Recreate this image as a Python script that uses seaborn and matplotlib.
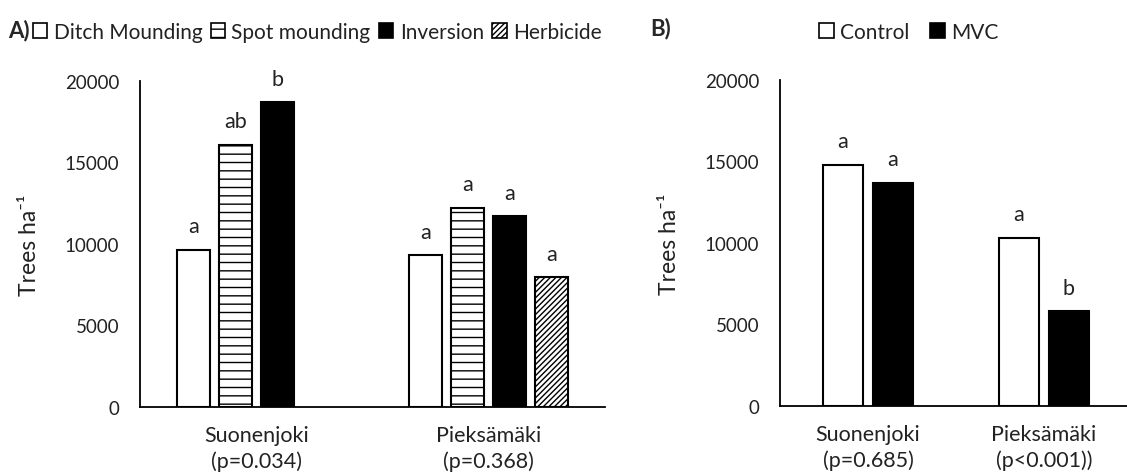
import numpy as np
import pandas as pd
import matplotlib
matplotlib.use("Agg")
import matplotlib.pyplot as plt
from matplotlib.patches import Patch
import seaborn as sns

# ---------------- data ----------------
sites = ["Suonenjoki", "Pieksämäki"]
p_a = ["(p=0.034)", "(p=0.368)"]
p_b = ["(p=0.685)", "(p<0.001))"]

treat_a = ["Ditch Mounding", "Spot mounding", "Inversion", "Herbicide"]
suon_a = [9650, 16100, 18700, np.nan]
pieks_a = [9300, 12200, 11700, 7950]
let_suon_a = ["a", "ab", "b", ""]
let_pieks_a = ["a", "a", "a", "a"]

treat_b = ["Control", "MVC"]
suon_b = [14800, 13700]
pieks_b = [10300, 5800]
let_suon_b = ["a", "a"]
let_pieks_b = ["a", "b"]

yticks = [0, 5000, 10000, 15000, 20000]

# styles
face_a = ["white", "white", "black", "white"]
hatch_a = [None, "--", None, "//////"]
face_b = ["white", "black"]

sns.set_style("white")
plt.rcParams["font.family"] = ["Lato", "DejaVu Sans"]
plt.rcParams["hatch.linewidth"] = 1.0
plt.rcParams["hatch.color"] = "black"

fig = plt.figure(figsize=(11.27, 4.77), dpi=100)
axA = fig.add_axes([0.1242, 0.1447, 0.4126, 0.6834])
axB = fig.add_axes([0.6921, 0.1468, 0.3123, 0.6834])

FS_Y = 13.5
FS_X = 15.5
FS_LET = 15.5
FS_LEG = 15
TXT = "#222222"


def make_df(treats, suon, pieks):
    rows = []
    for s, vals in zip(sites, [suon, pieks]):
        for t, v in zip(treats, vals):
            if not np.isnan(v):
                rows.append({"site": s, "treat": t, "trees": v})
    return pd.DataFrame(rows)


def draw(ax, treats, suon, pieks, lets_s, lets_p, faces, hatches, width, gap, plabels):
    df = make_df(treats, suon, pieks)
    sns.barplot(data=df, x="site", y="trees", hue="treat", order=sites,
                hue_order=treats, palette=dict(zip(treats, faces)),
                width=width, gap=gap, edgecolor="black", linewidth=1.5,
                saturation=1, legend=False, ax=ax, err_kws={"linewidth": 0})
    letters = {sites[0]: dict(zip(treats, lets_s)), sites[1]: dict(zip(treats, lets_p))}
    for cont, t, h in zip(ax.containers, treats, hatches):
        for bar in cont:
            if h:
                bar.set_hatch(h)
            cx = bar.get_x() + bar.get_width() / 2
            site = sites[int(round(cx))]
            lab = letters[site].get(t, "")
            if lab:
                ax.annotate(lab, (cx, bar.get_height()), xytext=(0, 12.7),
                            textcoords="offset points", ha="center", va="baseline",
                            fontsize=FS_LET, color=TXT)
    ax.set_xlim(-0.5, 1.5)
    ax.set_ylim(0, 20000)
    ax.set_yticks(yticks)
    ax.set_yticklabels([str(v) for v in yticks], fontsize=FS_Y, color=TXT)
    ax.set_xticks([0, 1])
    ax.set_xticklabels([f"{s}\n{p}" for s, p in zip(sites, plabels)], fontsize=FS_X,
                       color=TXT, linespacing=1.3)
    ax.tick_params(axis="both", length=0)
    ax.tick_params(axis="y", pad=15)
    ax.tick_params(axis="x", pad=13)
    ax.set_xlabel("")
    ax.set_ylabel("Trees ha\u207b\u00b9", fontsize=16.5, color=TXT)
    for sp in ["top", "right"]:
        ax.spines[sp].set_visible(False)
    for sp in ["left", "bottom"]:
        ax.spines[sp].set_color("black")
        ax.spines[sp].set_linewidth(1.3)


draw(axA, treat_a, suon_a, pieks_a, let_suon_a, let_pieks_a, face_a, hatch_a,
     0.72, 0.21, p_a)
draw(axB, treat_b, suon_b, pieks_b, let_suon_b, let_pieks_b, face_b, [None, None],
     0.568, 0.2, p_b)

axA.yaxis.set_label_coords(-0.215, 0.5)
axB.yaxis.set_label_coords(-0.284, 0.5)

# legends
hA = [Patch(facecolor=f, edgecolor="black", hatch=h, linewidth=1.2)
      for f, h in zip(face_a, hatch_a)]
fig.legend(hA, treat_a, loc="center left", bbox_to_anchor=(0.029, 0.931), ncol=4,
           frameon=False, fontsize=FS_LEG, handlelength=0.7, handleheight=0.7,
           handletextpad=0.3, columnspacing=0.4, borderaxespad=0, borderpad=0,
           labelcolor=TXT)
hB = [Patch(facecolor=f, edgecolor="black", linewidth=1.2) for f in face_b]
fig.legend(hB, treat_b, loc="center left", bbox_to_anchor=(0.727, 0.931), ncol=2,
           frameon=False, fontsize=FS_LEG, handlelength=0.7, handleheight=0.7,
           handletextpad=0.3, columnspacing=1.0, borderaxespad=0, borderpad=0,
           labelcolor=TXT)

fig.text(0.007, 0.937, "A)", fontsize=16, fontweight="bold", va="center", ha="left")
fig.text(0.577, 0.940, "B)", fontsize=16, fontweight="bold", va="center", ha="left")

fig.savefig("out.png", dpi=100)
